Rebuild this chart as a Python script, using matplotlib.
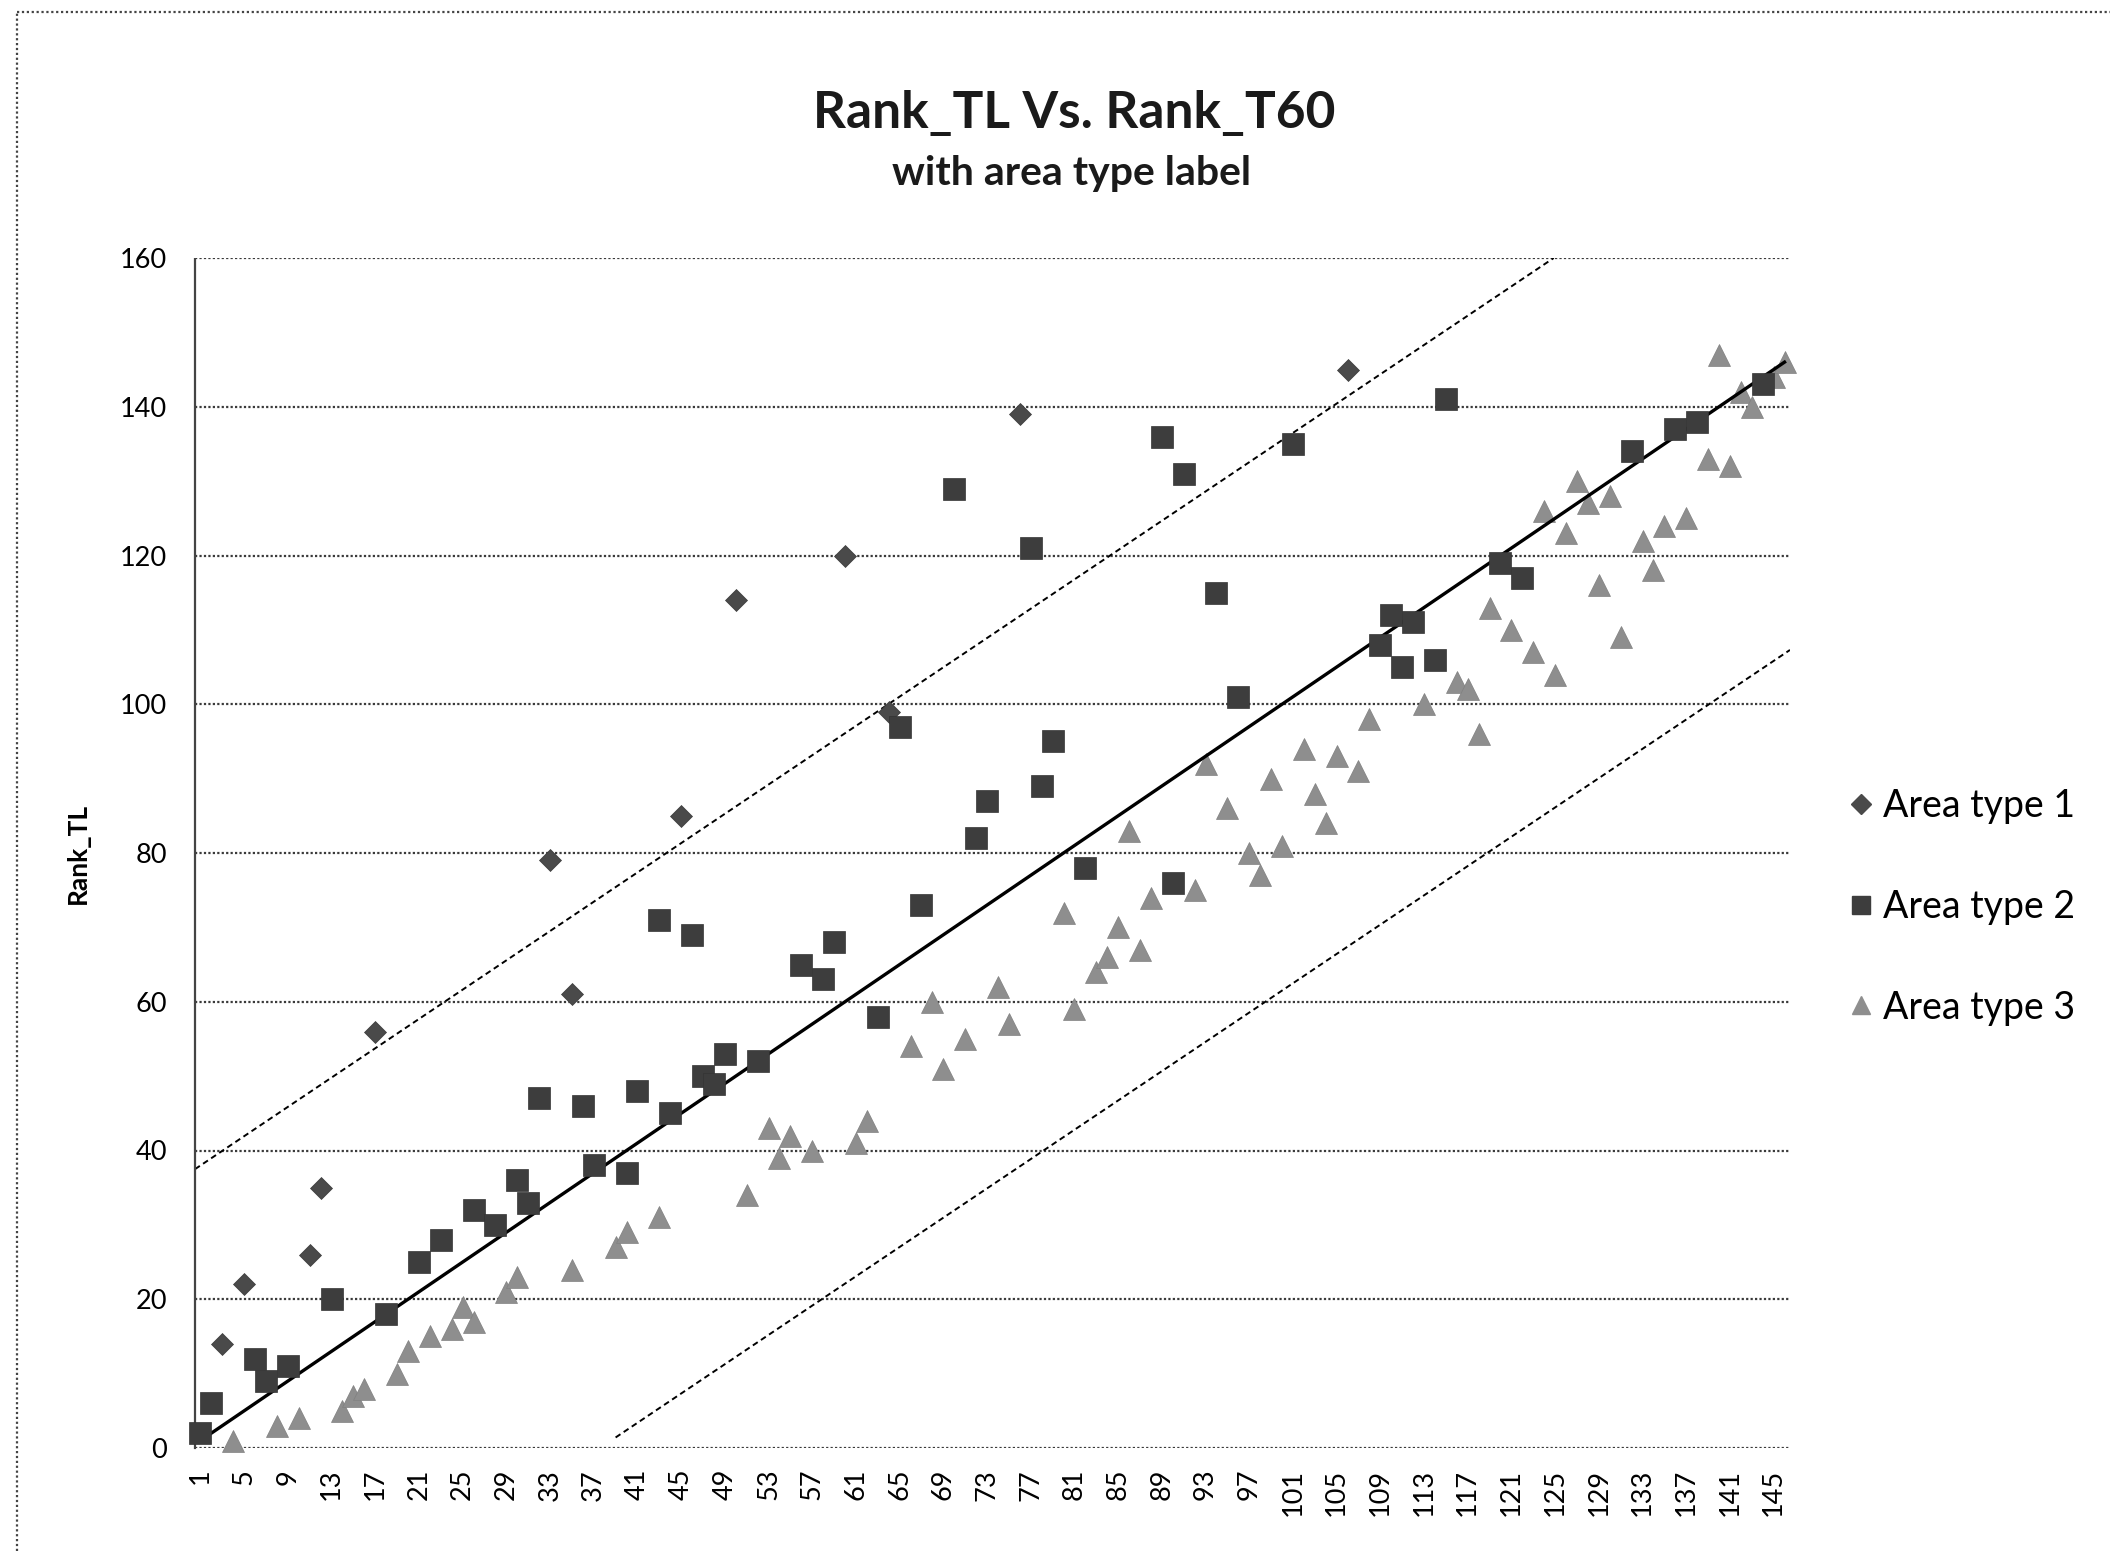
import matplotlib
matplotlib.use("Agg")
import matplotlib.pyplot as plt
from matplotlib.lines import Line2D
import numpy as np

plt.rcParams['font.family'] = ['Lato', 'DejaVu Sans']

# ---------------- data ----------------
n_categories = 146
tick_every = 4

t1_x = [3, 5, 11, 12, 17, 33, 35, 45, 50, 60, 64, 76, 106]
t1_y = [14, 22, 26, 35, 56, 79, 61, 85, 114, 120, 99, 139, 145]

t2_x = [1, 2, 6, 7, 9, 13, 18, 21, 23, 26, 28, 30, 31, 32, 36, 37, 40, 41, 43, 44,
        46, 47, 48, 49, 52, 56, 58, 59, 63, 65, 67, 70, 72, 73, 77, 78, 79, 82,
        89, 90, 91, 94, 96, 101, 109, 110, 111, 112, 114, 115, 120, 122, 132,
        136, 138, 144]
t2_y = [2, 6, 12, 9, 11, 20, 18, 25, 28, 32, 30, 36, 33, 47, 46, 38, 37, 48, 71, 45,
        69, 50, 49, 53, 52, 65, 63, 68, 58, 97, 73, 129, 82, 87, 121, 89, 95, 78,
        136, 76, 131, 115, 101, 135, 108, 112, 105, 111, 106, 141, 119, 117, 134,
        137, 138, 143]

t3_x = [4, 8, 10, 14, 15, 16, 19, 20, 22, 24, 25, 26, 29, 30, 35, 39, 40, 43, 51,
        53, 54, 55, 57, 61, 62, 66, 68, 69, 71, 74, 75, 80, 81, 83, 84, 85, 86,
        87, 88, 92, 93, 95, 97, 98, 99, 100, 102, 103, 104, 105, 107, 108, 113,
        116, 117, 118, 119, 121, 123, 124, 125, 126, 127, 128, 129, 130, 131,
        133, 134, 135, 137, 139, 140, 141, 142, 143, 145, 146]
t3_y = [1, 3, 4, 5, 7, 8, 10, 13, 15, 16, 19, 17, 21, 23, 24, 27, 29, 31, 34,
        43, 39, 42, 40, 41, 44, 54, 60, 51, 55, 62, 57, 72, 59, 64, 66, 70, 83,
        67, 74, 75, 92, 86, 80, 77, 90, 81, 94, 88, 84, 93, 91, 98, 100,
        103, 102, 96, 113, 110, 107, 126, 104, 123, 130, 127, 116, 128, 109,
        122, 118, 124, 125, 133, 147, 132, 142, 140, 144, 146]

series_labels = ["Area type 1", "Area type 2", "Area type 3"]
band_slope = 0.985
band_intercepts = [37.0, -37.0]   # dashed reference lines y = slope*x + intercept
lower_band_start = 39
y_ticks = [0, 20, 40, 60, 80, 100, 120, 140, 160]

# ---------------- figure ----------------
W, H = 2110, 1551
fig = plt.figure(figsize=(W / 100, H / 100), dpi=100)
fig.patch.set_facecolor('white')

# outer dotted chart border (only top and left edges visible)
border_style = dict(color='#444444', linewidth=1.6, linestyle=(0, (1, 1.2)),
                    transform=fig.transFigure)
fig.add_artist(Line2D([17 / W, 1.0], [1 - 12 / H, 1 - 12 / H], **border_style))
fig.add_artist(Line2D([17 / W, 17 / W], [0.0, 1 - 12 / H], **border_style))

ax = fig.add_axes([195 / W, 1 - 1448 / H, (1790 - 195) / W, (1448 - 258) / H])
ax.set_xlim(0.5, n_categories + 0.5)
ax.set_ylim(0, 160)

# gridlines
ax.set_yticks(y_ticks)
ax.yaxis.grid(True, color='#3a3a3a', linestyle=(0, (1, 1)), linewidth=1.6)
ax.set_axisbelow(True)
for s in ['top', 'right', 'bottom']:
    ax.spines[s].set_visible(False)
ax.spines['left'].set_color('#444444')
ax.spines['left'].set_linewidth(1.6)
ax.spines['left'].set_linestyle((0, (1, 1)))

xt = list(range(1, n_categories + 1, tick_every))
ax.set_xticks(xt)
ax.set_xticklabels([str(v) for v in xt], rotation=90, fontsize=19.5)
ax.tick_params(axis='x', length=0, pad=15)
ax.tick_params(axis='y', length=0, labelsize=19.5, pad=20)

# reference lines
xs = np.array([1, n_categories])
ax.plot(xs, xs, color='black', linewidth=2.4, zorder=4)
x_up = np.array([0.5, (160 - band_intercepts[0]) / band_slope])
ax.plot(x_up, band_slope * x_up + band_intercepts[0], color='black', linewidth=1.4,
        linestyle=(0, (3, 2)), zorder=2)
x_lo = np.array([lower_band_start, n_categories + 0.5])
ax.plot(x_lo, band_slope * x_lo + band_intercepts[1], color='black', linewidth=1.4,
        linestyle=(0, (3, 2)), zorder=2)

# markers
ax.plot(t1_x, t1_y, linestyle='none', marker='D', markersize=11.5, color='#4a4a4a',
        markeredgecolor='#3a3a3a', markeredgewidth=0.5, zorder=5, clip_on=False)
ax.plot(t2_x, t2_y, linestyle='none', marker='s', markersize=16.5, color='#3d3d3d',
        markeredgecolor='#333333', markeredgewidth=0.5, zorder=5, clip_on=False)
ax.plot(t3_x, t3_y, linestyle='none', marker='^', markersize=16.5, color='#8e8e8e',
        markeredgecolor='#808080', markeredgewidth=0.5, zorder=3, clip_on=False)

ax.set_ylabel("Rank_TL", fontsize=19, fontweight='bold')
ax.yaxis.set_label_coords(-0.066, 0.5)

# titles
fig.text(0.509, 1 - 113 / H, "Rank_TL Vs. Rank_T60", ha='center', va='center',
         fontsize=37, fontweight='bold', color='#1a1a1a')
fig.text(0.508, 1 - 173 / H, "with area type label", ha='center', va='center',
         fontsize=29.5, fontweight='bold', color='#1a1a1a')

# legend
handles = [
    Line2D([], [], linestyle='none', marker='D', markersize=10, color='#4a4a4a'),
    Line2D([], [], linestyle='none', marker='s', markersize=13, color='#3d3d3d'),
    Line2D([], [], linestyle='none', marker='^', markersize=13, color='#8e8e8e'),
]
leg = fig.legend(handles, series_labels, loc='center left',
                 bbox_to_anchor=(1812 / W, 1 - 907 / H), frameon=False,
                 fontsize=27, labelspacing=1.72, handletextpad=0.2,
                 handlelength=0.8)

fig.savefig("out.png", dpi=100, facecolor='white')
